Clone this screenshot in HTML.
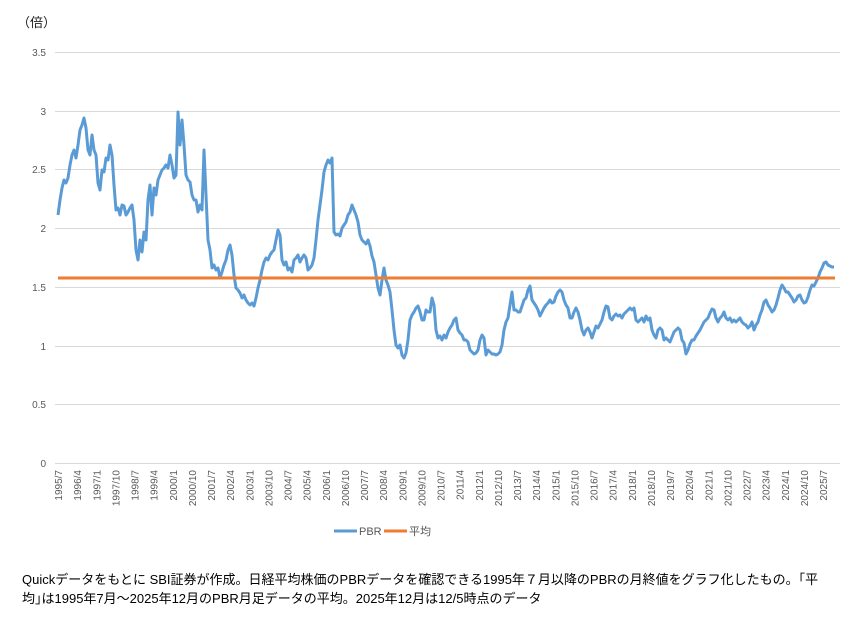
<!DOCTYPE html>
<html><head><meta charset="utf-8"><style>
body{margin:0;background:#fff;width:864px;height:644px;overflow:hidden;font-family:"Liberation Sans","Noto Sans CJK JP",sans-serif;}
.cap{position:absolute;left:22px;top:570px;font-size:13px;line-height:19px;color:#000;white-space:nowrap}
</style></head><body>
<svg width="864" height="644" style="position:absolute;left:0;top:0" font-family="Liberation Sans, Noto Sans CJK JP, sans-serif">
<text x="17" y="27" font-size="13" fill="#222">（倍）</text>
<g stroke="#d9d9d9" stroke-width="1">
<line x1="55" x2="840" y1="52.5" y2="52.5"/><line x1="55" x2="840" y1="111.5" y2="111.5"/><line x1="55" x2="840" y1="169.5" y2="169.5"/><line x1="55" x2="840" y1="228.5" y2="228.5"/><line x1="55" x2="840" y1="287.5" y2="287.5"/><line x1="55" x2="840" y1="346.5" y2="346.5"/><line x1="55" x2="840" y1="404.5" y2="404.5"/><line x1="55" x2="840" y1="463.5" y2="463.5"/>
</g>
<g font-size="10" fill="#595959" text-anchor="end">
<text x="46" y="56">3.5</text><text x="46" y="115">3</text><text x="46" y="173">2.5</text><text x="46" y="232">2</text><text x="46" y="291">1.5</text><text x="46" y="350">1</text><text x="46" y="408">0.5</text><text x="46" y="467">0</text>
</g>
<g font-size="10" fill="#595959" text-anchor="end">
<text transform="translate(62,470) rotate(-90)">1995/7</text>
<text transform="translate(81.1,470) rotate(-90)">1996/4</text>
<text transform="translate(100.3,470) rotate(-90)">1997/1</text>
<text transform="translate(119.4,470) rotate(-90)">1997/10</text>
<text transform="translate(138.5,470) rotate(-90)">1998/7</text>
<text transform="translate(157.6,470) rotate(-90)">1999/4</text>
<text transform="translate(176.8,470) rotate(-90)">2000/1</text>
<text transform="translate(195.9,470) rotate(-90)">2000/10</text>
<text transform="translate(215,470) rotate(-90)">2001/7</text>
<text transform="translate(234.1,470) rotate(-90)">2002/4</text>
<text transform="translate(253.3,470) rotate(-90)">2003/1</text>
<text transform="translate(272.4,470) rotate(-90)">2003/10</text>
<text transform="translate(291.5,470) rotate(-90)">2004/7</text>
<text transform="translate(310.6,470) rotate(-90)">2005/4</text>
<text transform="translate(329.8,470) rotate(-90)">2006/1</text>
<text transform="translate(348.9,470) rotate(-90)">2006/10</text>
<text transform="translate(368,470) rotate(-90)">2007/7</text>
<text transform="translate(387.1,470) rotate(-90)">2008/4</text>
<text transform="translate(406.3,470) rotate(-90)">2009/1</text>
<text transform="translate(425.4,470) rotate(-90)">2009/10</text>
<text transform="translate(444.5,470) rotate(-90)">2010/7</text>
<text transform="translate(463.6,470) rotate(-90)">2011/4</text>
<text transform="translate(482.8,470) rotate(-90)">2012/1</text>
<text transform="translate(501.9,470) rotate(-90)">2012/10</text>
<text transform="translate(521,470) rotate(-90)">2013/7</text>
<text transform="translate(540.1,470) rotate(-90)">2014/4</text>
<text transform="translate(559.3,470) rotate(-90)">2015/1</text>
<text transform="translate(578.4,470) rotate(-90)">2015/10</text>
<text transform="translate(597.5,470) rotate(-90)">2016/7</text>
<text transform="translate(616.6,470) rotate(-90)">2017/4</text>
<text transform="translate(635.8,470) rotate(-90)">2018/1</text>
<text transform="translate(654.9,470) rotate(-90)">2018/10</text>
<text transform="translate(674,470) rotate(-90)">2019/7</text>
<text transform="translate(693.1,470) rotate(-90)">2020/4</text>
<text transform="translate(712.3,470) rotate(-90)">2021/1</text>
<text transform="translate(731.4,470) rotate(-90)">2021/10</text>
<text transform="translate(750.5,470) rotate(-90)">2022/7</text>
<text transform="translate(769.6,470) rotate(-90)">2023/4</text>
<text transform="translate(788.8,470) rotate(-90)">2024/1</text>
<text transform="translate(807.9,470) rotate(-90)">2024/10</text>
<text transform="translate(827,470) rotate(-90)">2025/7</text>
</g>
<polyline fill="none" stroke="#5b9bd5" stroke-width="3" stroke-linejoin="round" points="58,215 60,200 62,188 64,180 66,183 68,178 70,165 72,155 74,150 76,158 78,145 80,130 82,125 84,118 86,128 88,150 90,155 92,135 94,150 96,155 98,183 100,190 102,170 104,172 106,158 108,160 110,145 112,155 114,185 116,210 118,208 120,215 122,205 124,206 126,215 128,212 130,208 132,205 134,220 136,250 138,260 140,240 142,252 144,232 146,240 148,200 150,185 152,215 154,188 156,195 158,180 160,175 162,170 164,168 166,165 168,168 170,155 172,165 174,178 176,175 178,112 180,145 182,120 184,145 186,175 188,180 190,182 192,195 194,200 196,200 198,212 200,205 202,210 204,150 206,195 208,240 210,250 212,268 214,265 216,270 218,268 220,278 222,272 224,265 226,260 228,250 230,245 232,255 234,275 236,288 238,290 240,293 242,298 244,295 246,300 248,303 250,305 252,303 254,306 256,298 258,288 260,280 262,270 264,262 266,258 268,260 270,255 272,252 274,250 276,240 278,230 280,235 282,260 284,265 286,262 288,270 290,268 292,272 294,260 296,258 298,255 300,262 302,258 304,255 306,258 308,270 310,268 312,265 314,258 316,240 318,220 320,205 322,190 324,172 326,165 328,160 330,163 332,158 334,232 336,235 338,234 340,236 342,228 344,225 346,222 348,215 350,212 352,205 354,210 356,215 358,222 360,235 362,240 364,242 366,244 368,240 370,246 372,256 374,262 376,275 378,288 380,295 382,280 384,268 386,280 388,285 390,292 392,310 394,330 396,345 398,348 400,345 402,355 404,358 406,353 408,340 410,320 412,315 414,312 416,308 418,306 420,312 422,320 424,320 426,310 428,312 430,312 432,298 434,305 436,330 438,338 440,336 442,340 444,335 446,338 448,332 450,328 452,325 454,320 456,318 458,330 460,333 462,335 464,340 466,340 468,342 470,350 472,352 474,354 476,353 478,350 480,340 482,335 484,338 486,355 488,350 490,352 492,354 494,354 496,355 498,354 500,352 502,345 504,330 506,322 508,318 510,305 512,292 514,310 516,310 518,312 520,312 522,306 524,300 526,298 528,290 530,286 532,300 534,303 536,306 538,310 540,316 542,312 544,308 546,305 548,303 550,300 552,303 554,302 556,296 558,292 560,290 562,292 564,300 566,305 568,308 570,318 572,318 574,312 576,308 578,312 580,320 582,330 584,335 586,330 588,328 590,332 592,338 594,332 596,326 598,328 600,324 602,320 604,312 606,306 608,307 610,318 612,320 614,316 616,314 618,316 620,315 622,318 624,314 626,312 628,310 630,308 632,310 634,308 636,320 638,322 640,320 642,318 644,322 646,316 648,320 650,318 652,330 654,335 656,338 658,330 660,328 662,330 664,340 666,338 668,340 670,342 672,337 674,332 676,330 678,328 680,330 682,340 684,343 686,354 688,350 690,344 692,340 694,340 696,336 698,333 700,330 702,326 704,322 706,320 708,318 710,313 712,309 714,310 716,318 718,322 720,318 722,316 724,312 726,318 728,320 730,318 732,322 734,320 736,322 738,320 740,318 742,322 744,324 746,325 748,328 750,326 752,322 754,330 756,325 758,322 760,315 762,310 764,302 766,300 768,305 770,308 772,312 774,310 776,305 778,298 780,290 782,285 784,288 786,292 788,292 790,295 792,298 794,302 796,300 798,296 800,295 802,300 804,303 806,302 808,297 810,290 812,285 814,286 816,282 818,278 820,272 822,268 824,263 826,262 828,265 830,266 832,267 834,267"/>
<line x1="58" x2="835" y1="278" y2="278" stroke="#ed7d31" stroke-width="3"/>
<line x1="334" x2="357" y1="531" y2="531" stroke="#5b9bd5" stroke-width="3"/>
<text x="359" y="535" font-size="11" fill="#595959">PBR</text>
<line x1="384" x2="407" y1="531" y2="531" stroke="#ed7d31" stroke-width="3"/>
<text x="409" y="535" font-size="11" fill="#595959">平均</text>
</svg>
<div class="cap">Quickデータをもとに SBI証券が作成。日経平均株価のPBRデータを確認できる1995年７月以降のPBRの月終値をグラフ化したもの。｢平<br>均｣は1995年7月～2025年12月のPBR月足データの平均。2025年12月は12/5時点のデータ</div>
</body></html>
